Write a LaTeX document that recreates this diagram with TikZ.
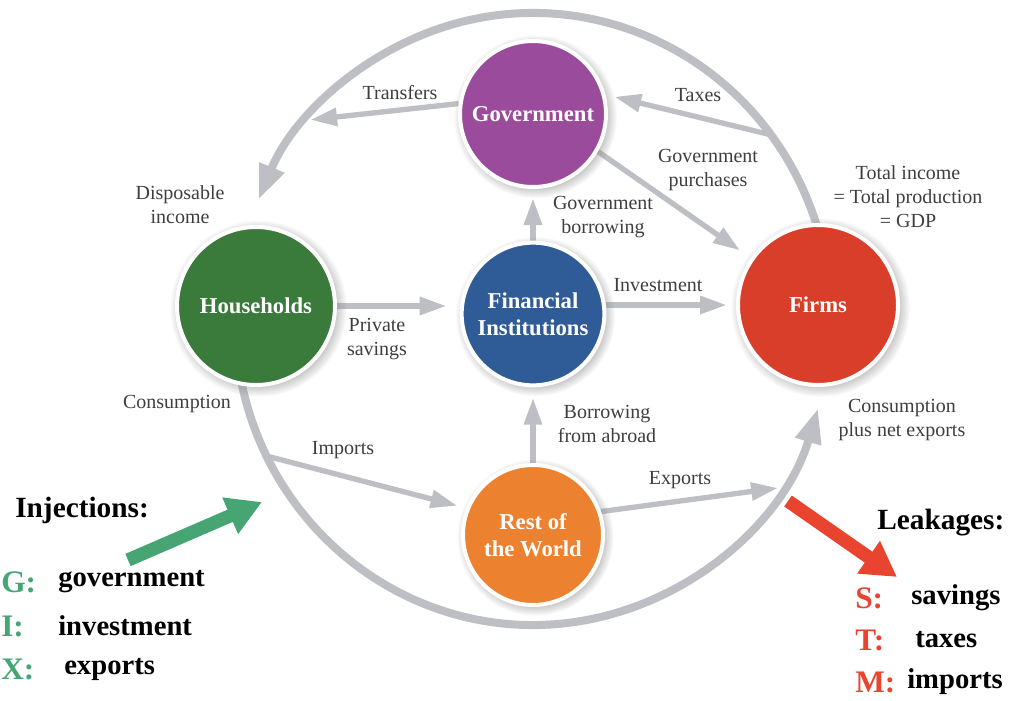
\documentclass[tikz,border=0pt]{standalone}
\usepackage{fontspec}
\setmainfont{Liberation Serif}
\usetikzlibrary{arrows.meta,shadows,backgrounds}
\definecolor{govc}{RGB}{155,75,155}
\definecolor{hhc}{RGB}{58,122,58}
\definecolor{finc}{RGB}{47,92,150}
\definecolor{firmc}{RGB}{216,62,42}
\definecolor{rowc}{RGB}{236,130,48}
\definecolor{flowgray}{RGB}{190,191,196}
\definecolor{labelgray}{RGB}{62,62,62}
\definecolor{injc}{RGB}{70,165,115}
\definecolor{leakc}{RGB}{232,68,48}
\begin{document}
\begin{tikzpicture}[x=0.75pt,y=-0.75pt,
  agent/.style={circle, draw=white, line width=3pt, text=white, align=center, inner sep=0pt,
    font=\fontsize{17}{20}\selectfont\bfseries,
    circular drop shadow={shadow xshift=1.5pt, shadow yshift=-1.5pt, shadow scale=1.12, opacity=0.5}},
  lbl/.style={text=labelgray, font=\fontsize{15}{18}\selectfont, align=center, inner sep=0pt},
  flow/.style={draw=flowgray, line width=4pt, -{Triangle[length=20pt,width=13pt]}, shorten >=7pt},
  bigflow/.style={draw=flowgray, line width=6pt, -{Triangle[length=26pt,width=19pt]}},
  legtitle/.style={font=\fontsize{22}{26}\selectfont\bfseries, text=black, anchor=west, inner sep=0pt},
  legkey/.style={font=\fontsize{23.5}{26}\selectfont\bfseries, anchor=west, inner sep=0pt},
  legtext/.style={font=\fontsize{21.5}{26}\selectfont\bfseries, text=black, anchor=west, inner sep=0pt},
  bigarrow/.style={line width=10pt, -{Triangle[length=26pt,width=28pt]}}
]
\useasboundingbox (0,0) rectangle (1017,700);

% agents
\node[agent, fill=govc, minimum size=109.5pt] (gov) at (533,114) {Government};
\node[agent, fill=hhc, minimum size=118.5pt] (hh) at (256,306) {Households};
\node[agent, fill=finc, minimum size=107pt] (fin) at (533,314) {Financial\\Institutions};
\node[agent, fill=firmc, minimum size=120pt] (firms) at (818,305) {Firms};
\node[agent, fill=rowc, minimum size=105pt] (row) at (533,535) {Rest of\\the World};

% points on the large loop
\coordinate (c0) at ({533+298*cos(17)},{319-306*sin(17)});
\coordinate (c1) at ({533+298*cos(190)},{319-306*sin(190)});
\coordinate (tr) at ({533+298*cos(139.5)},{319-306*sin(139.5)});
\coordinate (tx) at ({533+298*cos(37)},{319-306*sin(37)});
\coordinate (im) at ({533+298*cos(206.6)},{319-306*sin(206.6)});
\coordinate (ex) at ({533+298*cos(326.6)},{319-306*sin(326.6)});

\begin{pgfonlayer}{background}
  \draw[bigflow] (c0) arc[start angle=-17, end angle=-157, x radius=298, y radius=306];
  \draw[bigflow] (c1) arc[start angle=-190, end angle=-343, x radius=298, y radius=306];
  \draw[flow, shorten >=3pt] (gov.172) -- (tr);
  \draw[flow] (tx) -- (gov.15);
  \draw[flow, shorten >=10pt] (gov.-30) -- (firms.145);
  \draw[flow] (fin) -- (gov);
  \draw[flow, shorten >=10pt] (hh.east) -- (fin.west |- hh.east);
  \draw[flow] (fin.east |- firms.west) -- (firms.west);
  \draw[flow, shorten >=8pt] (row) -- (fin);
  \draw[flow] (im) -- (row.158);
  \draw[flow, shorten >=3pt] (row.19) -- (ex);
\end{pgfonlayer}

% flow labels
\node[lbl] (lTransfers) at (400,93) {Transfers};
\node[lbl] (lTaxes) at (698,95) {Taxes};
\node[lbl] (lGP) at (708,170) {Government\\purchases};
\node[lbl] (lGDP) at (908,197) {Total income\\= Total production\\= GDP};
\node[lbl] (lDI) at (180,205) {Disposable\\income};
\node[lbl] (lGB) at (603,217) {Government\\borrowing};
\node[lbl] (lInv) at (658,285) {Investment};
\node[lbl] (lPS) at (377,339) {Private\\savings};
\node[lbl] (lCons) at (177,404) {Consumption};
\node[lbl] (lBA) at (607,424) {Borrowing\\from abroad};
\node[lbl] (lCNX) at (902,420) {Consumption\\plus net exports};
\node[lbl] (lImp) at (343,450) {Imports};
\node[lbl] (lExp) at (680,480) {Exports};

% injections / leakages arrows
\coordinate (injA) at (128,560);
\coordinate (injB) at (262,502);
\coordinate (leakA) at (788,501);
\coordinate (leakB) at (897,577);
\draw[bigarrow, draw=injc, fill=injc] (injA) -- (injB);
\draw[bigarrow, draw=leakc, fill=leakc] (leakA) -- (leakB);

% legend left
\node[legtitle] (injT) at (15,510) {Injections:};
\node[legkey, text=injc] (kG) at (1,582) {G:};
\node[legtext] (tG) at (58,582) {government};
\node[legkey, text=injc] (kI) at (1,626) {I:};
\node[legtext] (tI) at (58,626) {investment};
\node[legkey, text=injc] (kX) at (1,669) {X:};
\node[legtext] (tX) at (64,669) {exports};

% legend right
\node[legtitle] (leakT) at (877,523) {Leakages:};
\node[legkey, text=leakc] (kS) at (855,598) {S:};
\node[legtext] (tS) at (911,598) {savings};
\node[legkey, text=leakc] (kT) at (855,640) {T:};
\node[legtext] (tT) at (915,640) {taxes};
\node[legkey, text=leakc] (kM) at (855,682) {M:};
\node[legtext] (tM) at (907,682) {imports};
\end{tikzpicture}
\end{document}
